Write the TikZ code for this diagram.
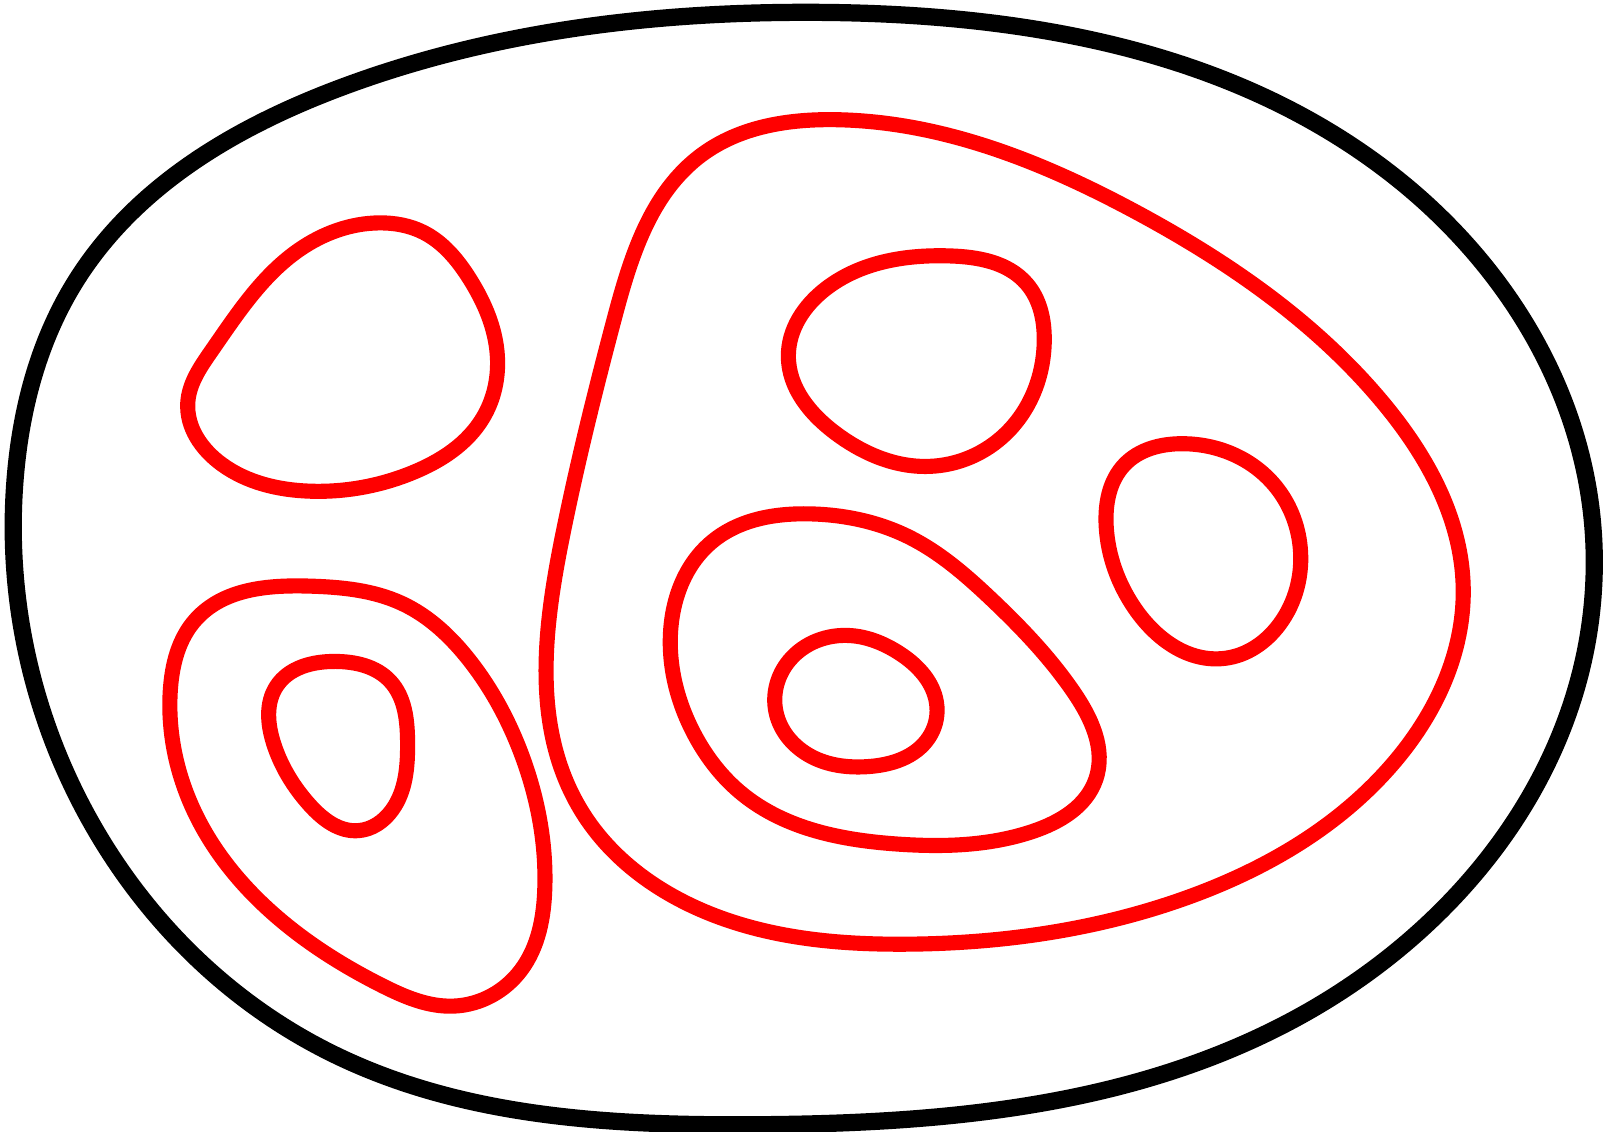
\documentclass[tikz,border=0pt]{standalone}
\usepackage{tikz}
\usetikzlibrary{hobby}
\definecolor{setred}{RGB}{255,0,0}
\tikzset{outerset/.style={black,line width=4.9pt},
  subset/.style={setred,line width=4.3pt}}
\begin{document}
\begin{tikzpicture}[x=0.010319cm,y=-0.010319cm]
    \useasboundingbox (0,0) rectangle (1568,1097);
    % universe
    \draw[outerset] plot[closed hobby] coordinates {(795,12) (330,85) (75,270) (15,460) (90,800) (320,1020) (730,1090) (1250,990) (1545,540) (1350,170)};
    % left sets
    \draw[subset] plot[closed hobby] coordinates {(368,216) (290,242) (205,340) (182,390) (215,450) (300,476) (400,458) (468,405) (482,345) (455,270) (410,225)};
    \draw[subset] plot[closed hobby] coordinates {(300,568) (190,600) (165,670) (190,790) (270,890) (370,955) (440,975) (505,940) (528,860) (505,730) (455,640) (390,585)};
    \draw[subset] plot[closed hobby] coordinates {(325,641) (268,665) (265,720) (300,780) (347,805) (380,785) (395,720) (378,660)};
    % big set and its parts
    \draw[subset] plot[closed hobby] coordinates {(810,116) (680,150) (595,310) (545,520) (560,780) (700,890) (880,915) (1150,870) (1350,740) (1418,570) (1340,390) (1100,205)};
    \draw[subset] plot[closed hobby] coordinates {(920,248) (800,280) (764,345) (810,420) (900,452) (975,420) (1012,330) (995,275)};
    \draw[subset] plot[closed hobby] coordinates {(1145,430) (1090,450) (1072,510) (1100,590) (1187,638) (1240,605) (1260,530) (1235,470)};
    \draw[subset] plot[closed hobby] coordinates {(785,498) (690,525) (650,610) (672,710) (720,770) (870,818) (1000,806) (1062,755) (1040,670) (960,580) (880,520)};
    \draw[subset] plot[closed hobby] coordinates {(825,616) (765,640) (752,690) (790,735) (840,743) (900,715) (908,685) (870,632)};
\end{tikzpicture}
\end{document}
